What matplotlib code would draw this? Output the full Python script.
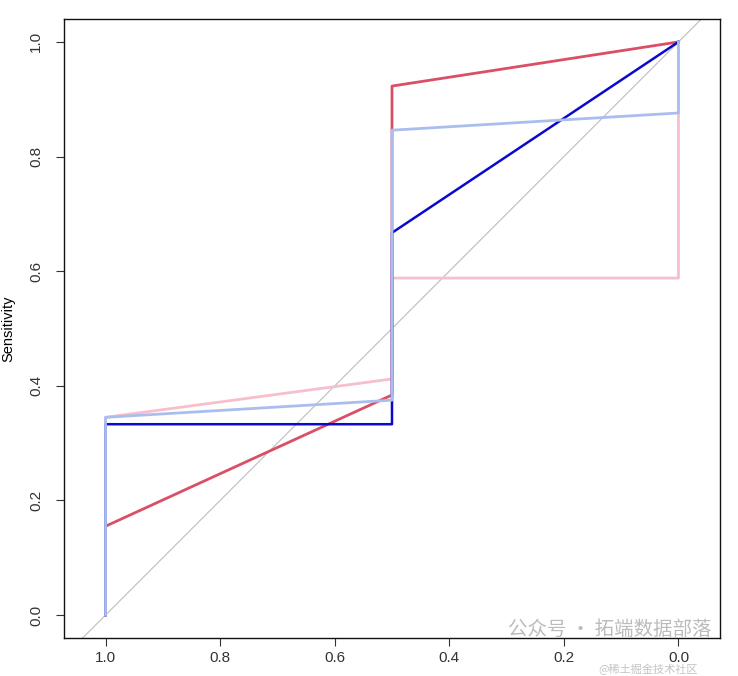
import matplotlib
matplotlib.use("Agg")
import matplotlib.pyplot as plt

# Specificity (x, reversed axis) and sensitivity (y) for each ROC curve
red_spec = [1.0, 1.0, 0.5, 0.5, 0.5, 0.0]
red_sens = [0.0, 0.155, 0.384, 0.846, 0.923, 1.0]

blue_spec = [1.0, 1.0, 0.5, 0.5, 0.5, 0.0]
blue_sens = [0.0, 0.333, 0.333, 0.375, 0.667, 1.0]

pink_spec = [1.0, 1.0, 0.5, 0.5, 0.0, 0.0]
pink_sens = [0.0, 0.345, 0.412, 0.588, 0.588, 1.0]

lblue_spec = [1.0, 1.0, 0.5, 0.5, 0.0, 0.0]
lblue_sens = [0.0, 0.345, 0.375, 0.846, 0.876, 1.0]

tick_vals = [1.0, 0.8, 0.6, 0.4, 0.2, 0.0]
tick_labels = ["1.0", "0.8", "0.6", "0.4", "0.2", "0.0"]
ytick_labels = ["0.0", "0.2", "0.4", "0.6", "0.8", "1.0"]

plt.rcParams['font.family'] = ['Liberation Sans', 'DejaVu Sans']

fig = plt.figure(figsize=(7.38, 6.76), dpi=100)
ax = fig.add_axes([64/738, 1-638/676, (720-64)/738, (638-19)/676])

ax.set_xlim(1.0725, -0.0725)
ax.set_ylim(-0.04, 1.04)

# diagonal reference line
ax.plot([1.2, -0.2], [-0.2, 1.2], color="#BDBDBD", lw=0.8, zorder=1)

ax.plot(pink_spec, pink_sens, color="#F7BFCB", lw=2, zorder=2)
ax.plot(red_spec, red_sens, color="#DB4F66", lw=2, zorder=3)
ax.plot(blue_spec, blue_sens, color="#0A0ACC", lw=1.8, zorder=4)
ax.plot(lblue_spec, lblue_sens, color="#AABEEE", lw=2, zorder=5)

ax.set_xticks(tick_vals)
ax.set_xticklabels(tick_labels, fontsize=11)
ax.set_yticks([0.0, 0.2, 0.4, 0.6, 0.8, 1.0])
ax.set_yticklabels(ytick_labels, fontsize=11, rotation=90, va="center")
ax.tick_params(axis="both", direction="out", length=6, width=0.8, colors="#333333", pad=3)
ax.tick_params(axis="y", pad=9)
for s in ax.spines.values():
    s.set_linewidth(1.0)
    s.set_color("#111111")

ax.set_ylabel("Sensitivity", fontsize=10.5, labelpad=10)

# watermark
fig.text(508/738, 1-629/676, "公众号 · 拓端数据部落", fontsize=14, color="#BBBBBB",
         family=['Noto Sans CJK SC', 'DejaVu Sans'], ha="left", va="center")
fig.text(598/738, 1/676, "@稀土掘金技术社区", fontsize=8, color="#C4C4C4",
         family=['Noto Sans CJK SC', 'DejaVu Sans'], ha="left", va="bottom")

fig.savefig("out.png", dpi=100)
